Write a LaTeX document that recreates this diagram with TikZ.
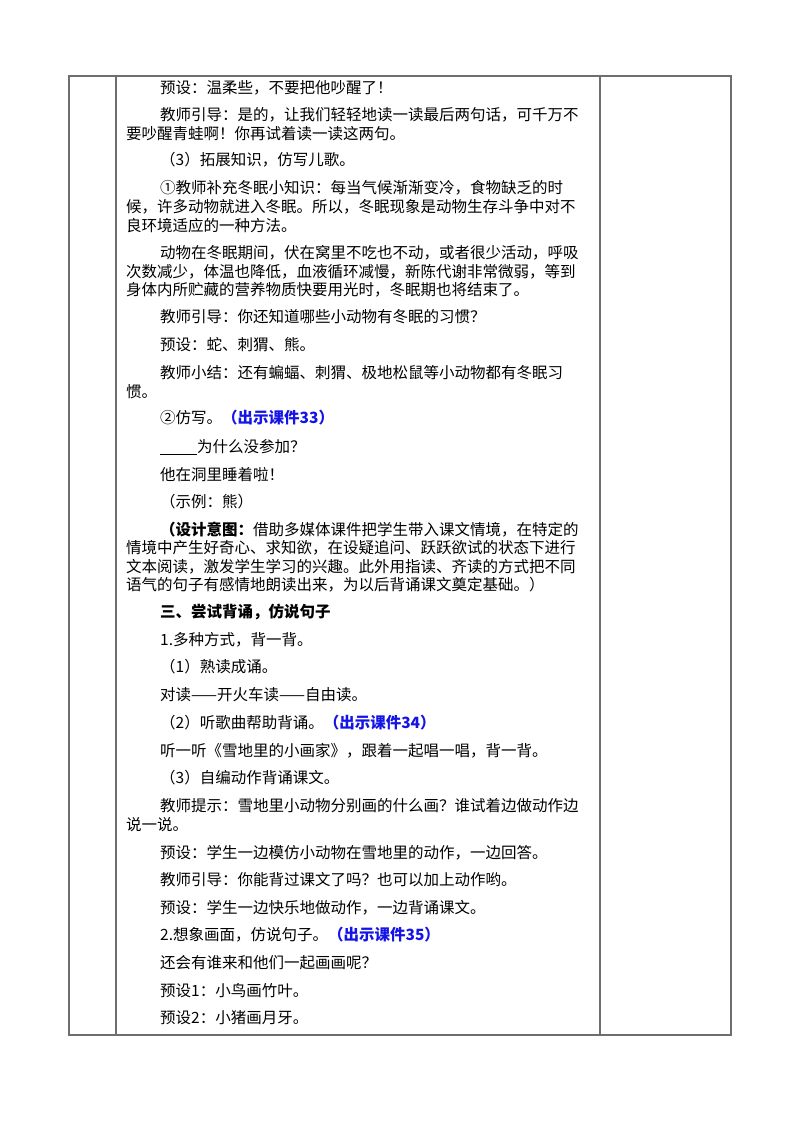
\documentclass[tikz,border=0pt]{standalone}
\usepackage{fontspec}
\setmainfont{Noto Sans CJK SC}
\definecolor{kj}{RGB}{20,20,230}
\definecolor{rule}{RGB}{110,110,110}
\begin{document}
\begin{tikzpicture}[x=1pt,y=-1pt,
  tl/.style={anchor=west,inner sep=0pt,font=\fontsize{15.5}{18}\selectfont},
  hl/.style={tl,font=\fontsize{15.5}{18}\selectfont\bfseries},
  frame/.style={draw=rule,line width=1.2pt}]
\useasboundingbox (0,0) rectangle (800,1132);
\fill[white] (0,0) rectangle (800,1132);
\draw[frame] (69,76) rectangle (731,1035);
\draw[frame] (116,76) -- (116,1035);
\draw[frame] (600,76) -- (600,1035);
\newcommand{\kj}[1]{{\bfseries\color{kj}#1}}
\node[tl] (l1) at (160,88) {预设：温柔些，不要把他吵醒了！};
\node[tl] (l2) at (160,115) {教师引导：是的，让我们轻轻地读一读最后两句话，可千万不};
\node[tl] (l3) at (126,134) {要吵醒青蛙啊！你再试着读一读这两句。};
\node[tl] (l4) at (160,160) {（3）拓展知识，仿写儿歌。};
\node[tl] (l5) at (160,188) {①教师补充冬眠小知识：每当气候渐渐变冷，食物缺乏的时};
\node[tl] (l6) at (126,207) {候，许多动物就进入冬眠。所以，冬眠现象是动物生存斗争中对不};
\node[tl] (l7) at (126,226) {良环境适应的一种方法。};
\node[tl] (l8) at (160,253) {动物在冬眠期间，伏在窝里不吃也不动，或者很少活动，呼吸};
\node[tl] (l9) at (126,272) {次数减少，体温也降低，血液循环减慢，新陈代谢非常微弱，等到};
\node[tl] (l10) at (126,290) {身体内所贮藏的营养物质快要用光时，冬眠期也将结束了。};
\node[tl] (l11) at (160,317) {教师引导：你还知道哪些小动物有冬眠的习惯？};
\node[tl] (l12) at (160,345) {预设：蛇、刺猬、熊。};
\node[tl] (l13) at (160,373) {教师小结：还有蝙蝠、刺猬、极地松鼠等小动物都有冬眠习};
\node[tl] (l14) at (126,392) {惯。};
\node[tl] (l15) at (160,418) {②仿写。\kj{（出示课件33）}};
\node[tl] (l16) at (160,447) {\rule[-2pt]{37pt}{0.8pt}为什么没参加？};
\node[tl] (l17) at (160,475) {他在洞里睡着啦！};
\node[tl] (l18) at (160,502) {（示例：熊）};
\node[tl] (l19) at (160,530) {{\bfseries（设计意图：}借助多媒体课件把学生带入课文情境，在特定的};
\node[tl] (l20) at (126,548) {情境中产生好奇心、求知欲，在设疑追问、跃跃欲试的状态下进行};
\node[tl] (l21) at (126,567) {文本阅读，激发学生学习的兴趣。此外用指读、齐读的方式把不同};
\node[tl] (l22) at (126,585) {语气的句子有感情地朗读出来，为以后背诵课文奠定基础。）};
\node[hl] (l23) at (160,612) {三、尝试背诵，仿说句子};
\node[tl] (l24) at (160,640) {1.多种方式，背一背。};
\node[tl] (l25) at (160,667) {（1）熟读成诵。};
\node[tl] (l26) at (160,695) {对读——开火车读——自由读。};
\node[tl] (l27) at (160,723) {（2）听歌曲帮助背诵。\kj{（出示课件34）}};
\node[tl] (l28) at (160,751) {听一听《雪地里的小画家》，跟着一起唱一唱，背一背。};
\node[tl] (l29) at (160,778) {（3）自编动作背诵课文。};
\node[tl] (l30) at (160,806) {教师提示：雪地里小动物分别画的什么画？谁试着边做动作边};
\node[tl] (l31) at (126,825) {说一说。};
\node[tl] (l32) at (160,853) {预设：学生一边模仿小动物在雪地里的动作，一边回答。};
\node[tl] (l33) at (160,880) {教师引导：你能背过课文了吗？也可以加上动作哟。};
\node[tl] (l34) at (160,908) {预设：学生一边快乐地做动作，一边背诵课文。};
\node[tl] (l35) at (160,935) {2.想象画面，仿说句子。\kj{（出示课件35）}};
\node[tl] (l36) at (160,963) {还会有谁来和他们一起画画呢？};
\node[tl] (l37) at (160,991) {预设1：小鸟画竹叶。};
\node[tl] (l38) at (160,1018) {预设2：小猪画月牙。};
\end{tikzpicture}
\end{document}
